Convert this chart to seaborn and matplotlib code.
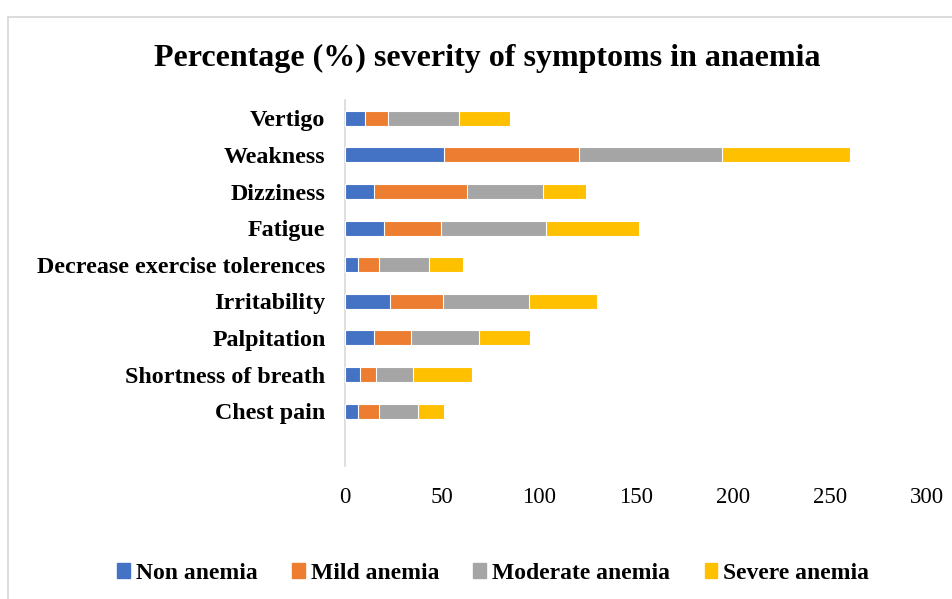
import numpy as np
import pandas as pd
import matplotlib
matplotlib.use('Agg')
import matplotlib.pyplot as plt
import seaborn as sns
from matplotlib.patches import Rectangle, Patch

sns.set_style('white')
plt.rcParams['font.family'] = ['Liberation Serif', 'DejaVu Serif']
plt.rcParams['text.color'] = 'black'
plt.rcParams['xtick.color'] = 'black'
plt.rcParams['ytick.color'] = 'black'

# data
symptoms = ['Vertigo', 'Weakness', 'Dizziness', 'Fatigue', 'Decrease exercise tolerences',
            'Irritability', 'Palpitation', 'Shortness of breath', 'Chest pain']
non_anemia = [10.3, 51.2, 15.1, 20.3, 6.9, 23.2, 15.1, 7.9, 6.9]
mild_anemia = [12, 69.6, 47.9, 29.3, 10.8, 27.5, 18.9, 8.1, 10.8]
moderate_anemia = [36.6, 73.7, 39.2, 54.2, 25.6, 44.3, 35.2, 19.1, 20.1]
severe_anemia = [26, 65.8, 21.9, 47.9, 17.4, 35.1, 26.2, 30.4, 13.1]

series = ['Non anemia', 'Mild anemia', 'Moderate anemia', 'Severe anemia']
colors = ['#4472C4', '#ED7D31', '#A5A5A5', '#FFC000']

df = pd.DataFrame({'Symptom': symptoms,
                   'Non anemia': non_anemia,
                   'Mild anemia': mild_anemia,
                   'Moderate anemia': moderate_anemia,
                   'Severe anemia': severe_anemia})
cum = df[series].cumsum(axis=1)

fig = plt.figure(figsize=(9.52, 5.99), dpi=100)
ax = fig.add_axes([0.3624, 0.222, 0.6113, 0.611])

# stacked bars: draw the running totals from the longest down
for i in range(len(series) - 1, -1, -1):
    sns.barplot(x=cum[series[i]], y=df['Symptom'], color=colors[i], orient='h',
                width=0.41, saturation=1, ax=ax, zorder=2 + (len(series) - i),
                linewidth=0.8, edgecolor='white')

ax.set_xlim(0, 300)
ax.set_ylim(9.5, -0.5)
ax.set_xticks([0, 50, 100, 150, 200, 250, 300])
ax.set_xlabel('')
ax.set_ylabel('')
for s in ['top', 'right', 'bottom']:
    ax.spines[s].set_visible(False)
ax.spines['left'].set_color('#D9D9D9')
ax.spines['left'].set_linewidth(1.2)
ax.tick_params(axis='x', length=0, labelsize=16.5, pad=15)
ax.tick_params(axis='y', length=0, pad=14)
for lab in ax.get_yticklabels():
    lab.set_fontweight('bold')
    lab.set_fontsize(17.3)

fig.text(0.512, 0.903, 'Percentage (%) severity of symptoms in anaemia',
         ha='center', va='center', fontsize=23, fontweight='bold')

handles = [Patch(color=c, label=s) for c, s in zip(colors, series)]
fig.legend(handles=handles, loc='center', bbox_to_anchor=(0.518, 0.043), ncol=4,
           frameon=False, prop={'weight': 'bold', 'size': 17},
           handlelength=0.55, handleheight=0.55, handletextpad=0.25, columnspacing=1.45)

fig.patches.append(Rectangle((8 / 952, -0.01), 1.0, 1 - 16.5 / 599 + 0.01, transform=fig.transFigure,
                             fill=False, edgecolor='#D9D9D9', linewidth=1.3))

fig.savefig('out.png', dpi=100)
